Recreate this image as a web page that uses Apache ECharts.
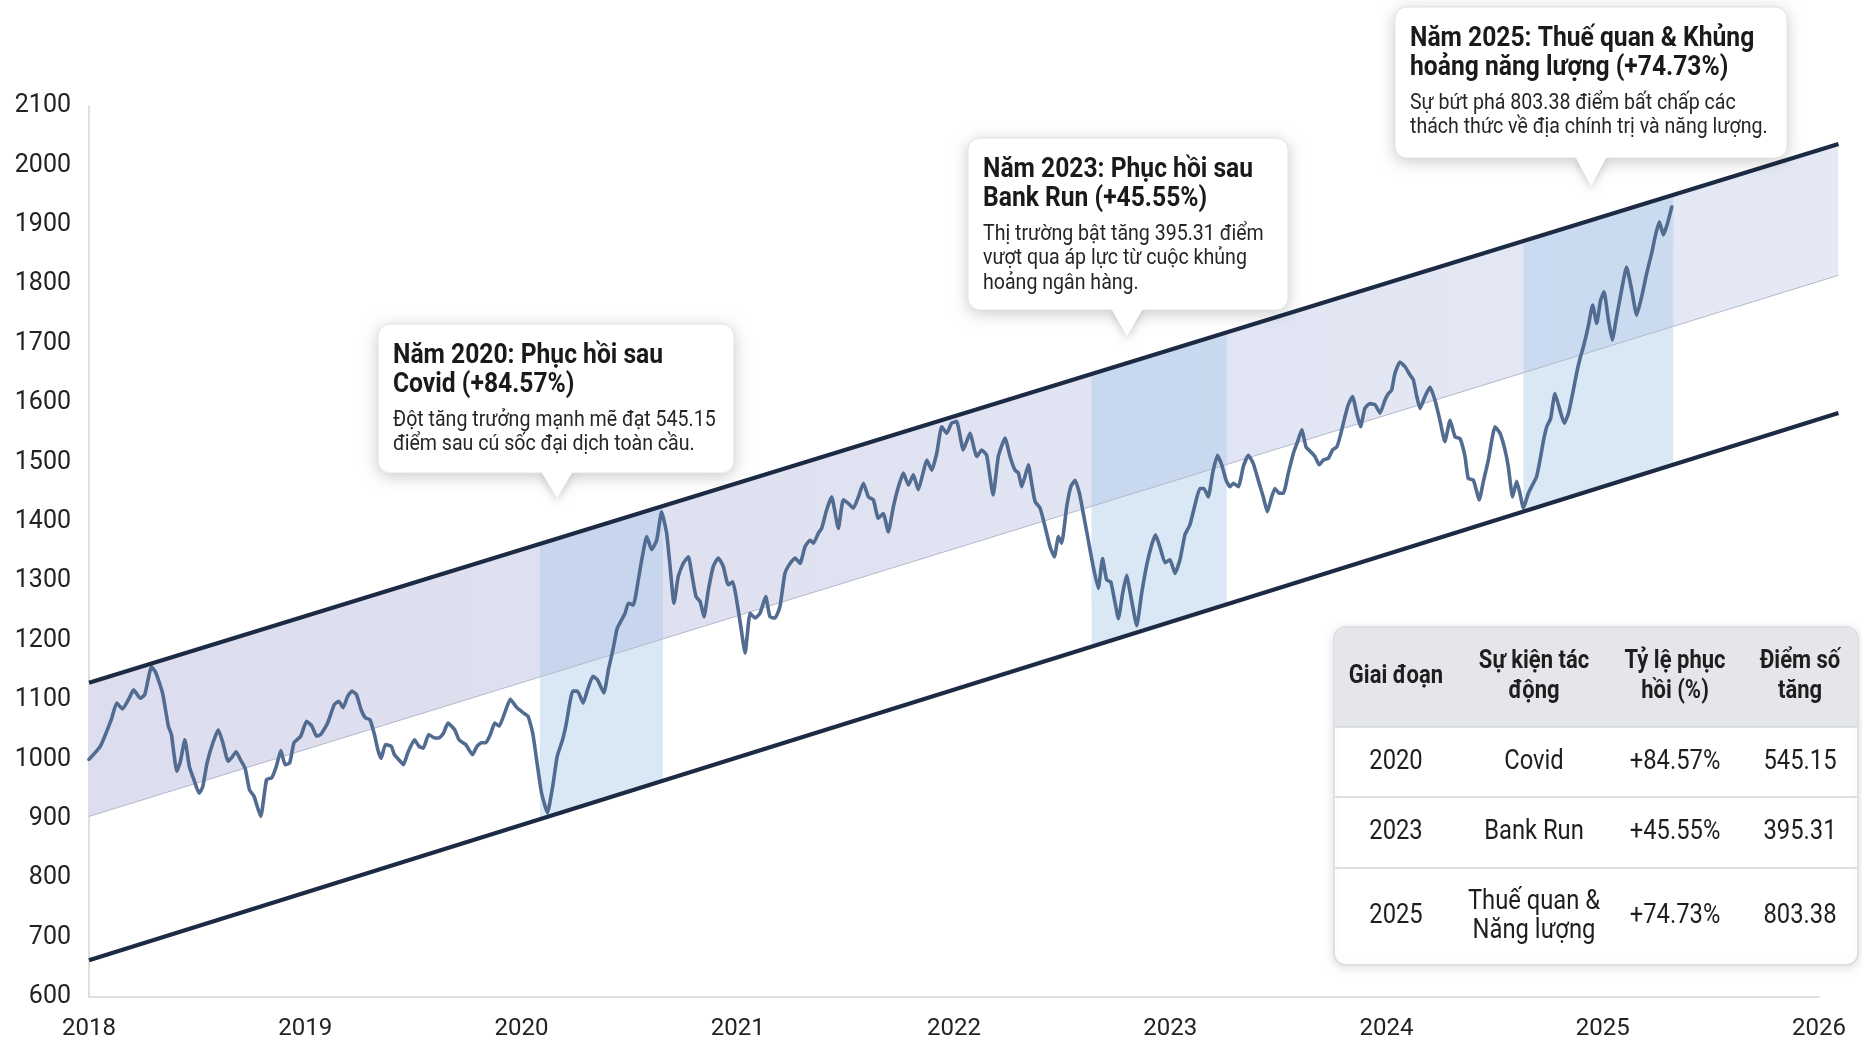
<!DOCTYPE html>
<html><head><meta charset="utf-8">
<script src="https://cdn.jsdelivr.net/npm/echarts@6/dist/echarts.min.js"></script>
<style>html,body{margin:0;padding:0;background:#fff}#c{width:1862px;height:1043px}</style>
</head><body><div id="c"></div>
<script>
// ---------- DATA ----------
const dates = [
2018.000,2018.052,2018.103,2018.128,2018.155,2018.186,2018.206,2018.237,2018.258,2018.289,
2018.309,2018.340,2018.367,2018.381,2018.406,2018.423,2018.443,2018.464,2018.485,2018.509,
2018.526,2018.546,2018.573,2018.598,2018.619,2018.643,2018.660,2018.680,2018.701,2018.722,
2018.742,2018.763,2018.794,2018.821,2018.845,2018.866,2018.887,2018.907,2018.928,2018.948,
2018.979,2019.006,2019.031,2019.052,2019.072,2019.103,2019.134,2019.155,2019.175,2019.196,
2019.216,2019.237,2019.258,2019.278,2019.299,2019.320,2019.336,2019.351,2019.371,2019.398,
2019.412,2019.439,2019.454,2019.474,2019.505,2019.526,2019.546,2019.571,2019.598,2019.619,
2019.639,2019.660,2019.691,2019.711,2019.742,2019.773,2019.794,2019.814,2019.835,2019.856,
2019.876,2019.897,2019.922,2019.948,2019.979,2020.010,2020.031,2020.052,2020.072,2020.093,
2020.120,2020.144,2020.165,2020.190,2020.206,2020.237,2020.258,2020.285,2020.305,2020.330,
2020.351,2020.381,2020.402,2020.423,2020.443,
2020.479,2020.494,2020.517,2020.540,2020.556,2020.579,2020.602,2020.625,2020.648,2020.671,
2020.687,2020.705,2020.725,2020.748,2020.772,2020.787,2020.807,2020.826,2020.844,2020.864,
2020.887,2020.910,2020.933,2020.956,2020.977,2020.995,2021.014,2021.034,2021.057,2021.080,
2021.103,2021.129,2021.149,2021.172,2021.195,2021.218,2021.242,2021.265,2021.288,2021.311,
2021.334,2021.350,2021.373,2021.388,2021.411,2021.434,2021.465,2021.488,2021.511,2021.535,
2021.558,2021.581,2021.604,2021.627,2021.650,2021.673,2021.696,2021.720,2021.743,2021.766,
2021.789,2021.812,2021.835,2021.858,2021.874,2021.897,2021.920,2021.943,2021.966,2021.989,
2022.012,2022.043,2022.074,2022.105,2022.128,2022.151,2022.181,2022.205,2022.236,
2022.259,2022.282,2022.298,2022.313,2022.328,2022.344,2022.359,2022.375,2022.398,2022.421,
2022.444,2022.464,2022.483,2022.498,2022.521,2022.540,2022.560,2022.580,2022.598,2022.621,
2022.644,2022.667,2022.687,2022.706,2022.725,2022.745,2022.760,2022.780,2022.798,2022.821,
2022.845,2022.868,2022.891,2022.914,2022.932,2022.952,2022.976,2022.999,2023.022,2023.045,
2023.068,2023.091,2023.114,2023.137,2023.156,2023.176,2023.196,2023.218,2023.238,2023.258,
2023.276,2023.292,2023.315,2023.338,2023.361,2023.384,2023.407,2023.430,2023.449,2023.469,
2023.484,2023.504,2023.523,2023.546,2023.569,2023.589,2023.608,2023.628,2023.649,2023.669,
2023.689,2023.708,2023.731,2023.751,2023.770,2023.785,2023.808,2023.823,2023.843,2023.862,
2023.880,2023.900,2023.923,2023.947,2023.970,
2023.993,2024.009,2024.024,2024.039,2024.062,2024.086,2024.109,2024.124,2024.140,2024.155,
2024.178,2024.201,2024.224,2024.247,2024.270,2024.294,2024.317,2024.340,2024.363,2024.378,
2024.402,2024.429,2024.448,2024.471,2024.502,2024.525,2024.548,2024.563,2024.583,2024.602,
2024.617,2024.633,2024.656,2024.679,2024.694,2024.710,2024.725,2024.741,2024.759,2024.779,
2024.802,2024.822,2024.841,2024.861,2024.879,2024.895,2024.913,2024.933,2024.953,2024.972,
2024.990,2025.006,2025.026,2025.044,2025.064,2025.087,2025.110,2025.134,2025.157,2025.180,
2025.203,2025.226,2025.246,2025.262,2025.280,2025.299,2025.319
];
const values = [
1000,1022,1067,1095,1085,1103,1117,1103,1109,1156,
1146,1112,1056,1042,980,997,1033,988,966,943,
954,994,1028,1050,1028,997,1003,1013,999,985,
949,938,904,966,969,988,1015,991,994,1028,
1039,1064,1056,1039,1042,1061,1092,1098,1087,1106,
1115,1109,1084,1070,1067,1042,1016,1002,1025,1022,
1008,997,991,1011,1033,1022,1019,1042,1036,1036,
1044,1061,1050,1033,1025,1008,1022,1028,1028,1042,
1061,1056,1078,1101,1087,1078,1072,1044,994,943,
910,954,1005,1033,1058,1115,1115,1095,1117,1140,
1134,1112,1151,1185,1221,
1246,1263,1260,1302,1336,1375,1353,1369,1417,1381,
1325,1263,1308,1330,1341,1313,1274,1266,1240,1285,
1325,1339,1325,1294,1299,1268,1224,1179,1246,1238,
1246,1274,1240,1238,1257,1313,1330,1339,1330,1358,
1369,1364,1381,1389,1420,1442,1389,1437,1431,1423,
1442,1465,1442,1437,1406,1414,1383,1426,1459,1482,
1462,1479,1454,1484,1504,1487,1515,1560,1549,1566,
1569,1521,1549,1510,1521,1512,1445,1510,1541,
1510,1487,1482,1459,1476,1496,1465,1434,1423,1392,
1358,1341,1375,1364,1425,1459,1470,1448,1414,1369,
1324,1288,1338,1302,1299,1263,1237,1280,1310,1268,
1225,1280,1327,1361,1378,1358,1331,1336,1313,1336,
1378,1395,1428,1456,1456,1442,1482,1512,1496,1470,
1459,1465,1459,1493,1512,1498,1470,1442,1417,1442,
1456,1448,1448,1482,1515,1535,1555,1526,1518,1510,
1496,1504,1507,1521,1526,1543,1577,1597,1611,1583,
1560,1591,1599,1597,1583,
1605,1616,1622,1650,1669,1661,1647,1639,1611,1591,
1611,1627,1605,1571,1535,1571,1543,1540,1510,1473,
1470,1437,1468,1504,1560,1549,1521,1493,1442,1468,
1448,1423,1448,1465,1476,1504,1535,1560,1574,1616,
1588,1566,1582,1616,1650,1675,1698,1729,1765,1734,
1773,1787,1740,1706,1745,1790,1829,1790,1748,1779,
1818,1852,1886,1905,1883,1902,1930
];
// trend channel (start / end)
const channelDates = [2018, 2026.09];
const upperLine = [1129, 2036];
const midLine = [904, 1815];
const lowerLine = [662, 1583];
// recovery periods
const bandStart = [2020.085, 2022.636, 2024.633];
const bandEnd = [2020.654, 2023.261, 2025.326];
// axis
const xMin = 2018, xMax = 2026, yMin = 600, yMax = 2100;
// callouts
const calloutTitles = [
  'Năm 2020: Phục hồi sau\nCovid (+84.57%)',
  'Năm 2023: Phục hồi sau\nBank Run (+45.55%)',
  'Năm 2025: Thuế quan & Khủng\nhoảng năng lượng (+74.73%)'
];
const calloutBodies = [
  'Đột tăng trưởng mạnh mẽ đạt 545.15\nđiểm sau cú sốc đại dịch toàn cầu.',
  'Thị trường bật tăng 395.31 điểm\nvượt qua áp lực từ cuộc khủng\nhoảng ngân hàng.',
  'Sự bứt phá 803.38 điểm bất chấp các\nthách thức về địa chính trị và năng lượng.'
];
// table
const tableHeader = ['Giai đoạn', 'Sự kiện tác\nđộng', 'Tỷ lệ phục\nhồi (%)', 'Điểm số\ntăng'];
const tablePeriod = ['2020', '2023', '2025'];
const tableEvent = ['Covid', 'Bank Run', 'Thuế quan &\nNăng lượng'];
const tableRate = ['+84.57%', '+45.55%', '+74.73%'];
const tablePoints = ['545.15', '395.31', '803.38'];

// ---------- LAYOUT / STYLE ----------
const FONT = 'Roboto, "Noto Sans", sans-serif';
const calloutBoxes = [
  {x:378, y:324, w:356, h:149, tx:557, ty:498},
  {x:968, y:138, w:320, h:172, tx:1127, ty:336},
  {x:1395, y:7, w:392, h:151, tx:1591, ty:186}
];
const tbl = {x:1334, y:627, w:524, h:338, headH:100, rows:[727, 797, 868, 965], cols:[1396, 1534, 1675, 1800]};

function lineAt(arr, t) {
  return arr[0] + (arr[1] - arr[0]) * (t - channelDates[0]) / (channelDates[1] - channelDates[0]);
}

const chart = echarts.init(document.getElementById('c'), null, {renderer: 'canvas'});

const graphics = [];
function txt(x, y, s, size, weight, color, align, sx, z) {
  graphics.push({type:'text', x:x, y:y, scaleX:sx, z:z, silent:true,
    style:{text:s, fontSize:size, fontWeight:weight, fontFamily:FONT, fill:color,
      textAlign:align, textVerticalAlign:'middle', align:align, verticalAlign:'middle'}});
}
calloutBoxes.forEach((b, i) => {
  const bottom = b.y + b.h;
  const tri = [[b.tx - 16, bottom - 2], [b.tx + 16, bottom - 2], [b.tx, b.ty]];
  graphics.push({type:'rect', z:100, silent:true, shape:{x:b.x, y:b.y, width:b.w, height:b.h, r:12},
    style:{fill:'#fff', shadowBlur:16, shadowColor:'rgba(0,0,0,0.22)', shadowOffsetY:3}});
  graphics.push({type:'polygon', z:100, silent:true, shape:{points:tri},
    style:{fill:'#fff', shadowBlur:10, shadowColor:'rgba(0,0,0,0.2)', shadowOffsetY:3}});
  graphics.push({type:'rect', z:101, silent:true, shape:{x:b.x, y:b.y, width:b.w, height:b.h, r:12},
    style:{fill:'#fff', stroke:'#e3e3e3', lineWidth:1}});
  graphics.push({type:'polygon', z:102, silent:true, shape:{points:tri}, style:{fill:'#fff'}});
  calloutTitles[i].split('\n').forEach((ln, k) => {
    txt(b.x + 15, b.y + 32 + k * 28.5, ln, 28, 'bold', '#1a1a1a', 'left', 0.88, 103);
  });
  calloutBodies[i].split('\n').forEach((ln, k) => {
    txt(b.x + 15, b.y + 96 + k * 24.5, ln, 22.5, 'normal', '#262626', 'left', 0.87, 103);
  });
});
// table
graphics.push({type:'rect', z:100, silent:true, shape:{x:tbl.x, y:tbl.y, width:tbl.w, height:tbl.h, r:12},
  style:{fill:'#fff', stroke:'#d8d9dc', lineWidth:1.5, shadowBlur:10, shadowColor:'rgba(0,0,0,0.12)', shadowOffsetY:2}});
graphics.push({type:'rect', z:101, silent:true, shape:{x:tbl.x + 1, y:tbl.y + 1, width:tbl.w - 2, height:tbl.headH - 1, r:[11,11,0,0]},
  style:{fill:'#e4e6ea'}});
[tbl.rows[0], tbl.rows[1], tbl.rows[2]].forEach((yy) => {
  graphics.push({type:'line', z:102, silent:true, shape:{x1:tbl.x + 1, y1:yy, x2:tbl.x + tbl.w - 1, y2:yy},
    style:{stroke:'#d2d4d8', lineWidth:1.5}});
});
tableHeader.forEach((h, c) => {
  const lines = h.split('\n');
  lines.forEach((ln, k) => {
    const cy = tbl.y + tbl.headH / 2 + (k - (lines.length - 1) / 2) * 30;
    txt(tbl.cols[c], cy, ln, 25, 'bold', '#1e1e1e', 'center', 0.88, 103);
  });
});
const rowCols = [tablePeriod, tableEvent, tableRate, tablePoints];
for (let r = 0; r < 3; r++) {
  const top = tbl.rows[r], bot = tbl.rows[r + 1];
  const mid = (top + bot) / 2;
  rowCols.forEach((col, c) => {
    const lines = col[r].split('\n');
    lines.forEach((ln, k) => {
      txt(tbl.cols[c], mid + (k - (lines.length - 1) / 2) * 29, ln, 27, 'normal', '#1e1e1e', 'center', 0.88, 103);
    });
  });
}

function channelLineSeries(name, arr, color, width, z) {
  return {
    type: 'custom', name: name, coordinateSystem: 'cartesian2d', clip: false, silent: true, z: z,
    data: [[channelDates[0], arr[0]]],
    renderItem: (p, api) => ({
      type: 'polyline',
      shape: {points: channelDates.map((d, i) => api.coord([d, arr[i]]))},
      style: {stroke: color, lineWidth: width, fill: null, lineCap: 'butt'}
    })
  };
}

const option = {
  animation: false,
  backgroundColor: '#ffffff',
  grid: {left: 89, right: 43, top: 106, bottom: 46, containLabel: false},
  xAxis: {
    type: 'value', min: xMin, max: xMax, interval: 1,
    axisLine: {show: true, lineStyle: {color: '#d5d5d5', width: 1.5}},
    axisTick: {show: false},
    splitLine: {show: false},
    axisLabel: {formatter: (v) => String(Math.round(v)), fontSize: 24, fontFamily: FONT, color: '#222', margin: 20}
  },
  yAxis: {
    type: 'value', min: yMin, max: yMax, interval: 100,
    axisLine: {show: true, lineStyle: {color: '#d5d5d5', width: 1.5}},
    axisTick: {show: false},
    splitLine: {show: false},
    axisLabel: {formatter: (v) => String(Math.round(v)), fontSize: 25, fontFamily: FONT, color: '#222', margin: 18}
  },
  series: [
    {
      type: 'custom', name: 'channelFill', coordinateSystem: 'cartesian2d', clip: false, silent: true, z: 1,
      data: [[channelDates[0], midLine[0]]],
      renderItem: (p, api) => {
        const pts = [
          api.coord([channelDates[0], upperLine[0]]), api.coord([channelDates[1], upperLine[1]]),
          api.coord([channelDates[1], midLine[1]]), api.coord([channelDates[0], midLine[0]])
        ];
        return {type: 'polygon', shape: {points: pts},
          style: {fill: new echarts.graphic.LinearGradient(0, 0, 1, 0, [
            {offset: 0, color: '#dcddee'}, {offset: 1, color: '#e5e9f5'}])}};
      }
    },
    {
      type: 'custom', name: 'bands', coordinateSystem: 'cartesian2d', clip: false, silent: true, z: 2,
      data: bandStart.map((s, i) => [s, bandEnd[i]]),
      encode: {x: [0, 1]},
      renderItem: (p, api) => {
        const s = api.value(0), e = api.value(1);
        const pts = [
          api.coord([s, lineAt(lowerLine, s)]), api.coord([e, lineAt(lowerLine, e)]),
          api.coord([e, lineAt(upperLine, e)]), api.coord([s, lineAt(upperLine, s)])
        ];
        return {type: 'polygon', shape: {points: pts}, style: {fill: 'rgba(168,200,234,0.42)'}};
      }
    },
    channelLineSeries('mid', midLine, '#b4b8cc', 1, 3),
    {
      type: 'line', name: 'Index', z: 4, showSymbol: false, symbol: 'none', smooth: 0.15,
      data: dates.map((d, i) => [d, values[i]]),
      lineStyle: {color: '#526b90', width: 3.6, cap: 'round', join: 'round'}
    },
    channelLineSeries('upper', upperLine, '#1c2a44', 4.2, 5),
    channelLineSeries('lower', lowerLine, '#1c2a44', 4.2, 5)
  ],
  graphic: graphics
};
chart.setOption(option);
</script>
</body></html>
